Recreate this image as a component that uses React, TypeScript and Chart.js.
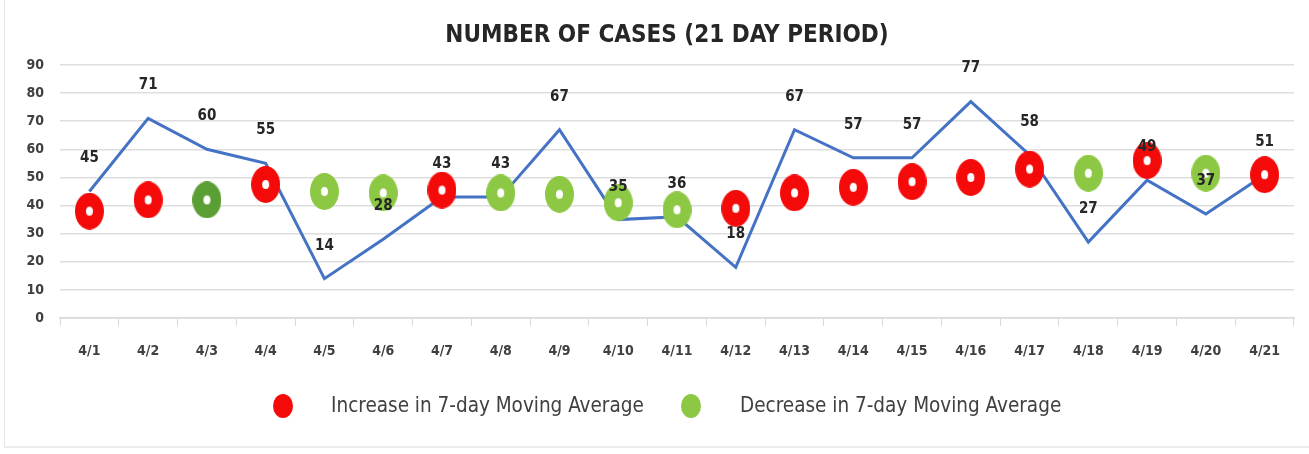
import React, { useEffect, useRef } from "react";
import { Chart, registerables } from "chart.js";

Chart.register(...registerables);

const categories = [
  "4/1", "4/2", "4/3", "4/4", "4/5", "4/6", "4/7", "4/8", "4/9", "4/10", "4/11",
  "4/12", "4/13", "4/14", "4/15", "4/16", "4/17", "4/18", "4/19", "4/20", "4/21",
];
const dailyCases = [45, 71, 60, 55, 14, 28, 43, 43, 67, 35, 36, 18, 67, 57, 57, 77, 58, 27, 49, 37, 51];
const movingAverage = [38, 42, 42, 47.5, 45, 44.5, 45.5, 44.5, 44, 41, 38.5, 39, 44.5, 46.5, 48.5, 50, 53, 51.5, 56, 51.5, 51];
const trend = [
  "up", "up", "downDark", "up", "down", "down", "up", "down", "down", "down", "down",
  "up", "up", "up", "up", "up", "up", "down", "up", "down", "up",
];
const yTicks = [0, 10, 20, 30, 40, 50, 60, 70, 80, 90];
const titleText = "NUMBER OF CASES (21 DAY PERIOD)";
const legendUp = "Increase in 7-day Moving Average";
const legendDown = "Decrease in 7-day Moving Average";

const FONT = "'Liberation Sans Narrow', 'DejaVu Sans Condensed', 'Open Sans', sans-serif";
const COLORS: Record<string, string> = {
  up: "#f50a0a",
  down: "#8cc843",
  downDark: "#5a9e34",
};

function makeRing(color: string): HTMLCanvasElement {
  const c = document.createElement("canvas");
  c.width = 29;
  c.height = 37;
  const g = c.getContext("2d")!;
  g.fillStyle = color;
  g.beginPath();
  g.ellipse(14.5, 18.5, 14.5, 18.5, 0, 0, Math.PI * 2);
  g.fill();
  g.fillStyle = "#ffffff";
  g.beginPath();
  g.ellipse(14.5, 18.5, 3.5, 4.5, 0, 0, Math.PI * 2);
  g.fill();
  return c;
}

export default function App() {
  const ref = useRef<HTMLCanvasElement | null>(null);

  useEffect(() => {
    document.body.style.margin = "0";
    const rings: Record<string, HTMLCanvasElement> = {
      up: makeRing(COLORS.up),
      down: makeRing(COLORS.down),
      downDark: makeRing(COLORS.downDark),
    };

    const overlay = {
      id: "overlay",
      afterDatasetsDraw(chart: any) {
        const ctx = chart.ctx;
        const meta = chart.getDatasetMeta(0);
        ctx.save();
        ctx.font = `bold 15px ${FONT}`;
        ctx.fillStyle = "#262626";
        ctx.textAlign = "center";
        ctx.textBaseline = "middle";
        meta.data.forEach((p: any, i: number) => {
          ctx.fillText(String(dailyCases[i]), p.x, p.y - 33);
        });
        ctx.restore();
      },
      afterDraw(chart: any) {
        const ctx = chart.ctx;
        ctx.save();
        // title
        ctx.font = `bold 24px ${FONT}`;
        ctx.fillStyle = "#262626";
        ctx.textAlign = "center";
        ctx.textBaseline = "middle";
        ctx.fillText(titleText, 667, 36);
        // legend
        const ly = 406;
        ctx.fillStyle = COLORS.up;
        ctx.beginPath();
        ctx.ellipse(283, ly, 10, 12, 0, 0, Math.PI * 2);
        ctx.fill();
        ctx.fillStyle = COLORS.down;
        ctx.beginPath();
        ctx.ellipse(691, ly, 10, 12, 0, 0, Math.PI * 2);
        ctx.fill();
        ctx.font = `20.5px ${FONT}`;
        ctx.fillStyle = "#404040";
        ctx.textAlign = "left";
        ctx.fillText(legendUp, 331, ly + 1);
        ctx.fillText(legendDown, 740, ly + 1);
        ctx.restore();
      },
    };

    const chart = new Chart(ref.current!, {
      type: "line",
      data: {
        labels: categories,
        datasets: [
          {
            label: "Daily cases",
            data: dailyCases,
            borderColor: "#4472c4",
            borderWidth: 3,
            pointRadius: 0,
            tension: 0,
            order: 2,
          },
          {
            label: "7-day Moving Average",
            data: movingAverage,
            showLine: false,
            pointStyle: trend.map((t) => rings[t]) as any,
            pointRadius: 14,
            order: 1,
          },
        ],
      },
      options: {
        animation: false,
        responsive: false,
        layout: { padding: { top: 65, right: 11, bottom: 76, left: 0 } },
        plugins: {
          legend: { display: false },
          title: { display: false },
          tooltip: { enabled: false },
        },
        scales: {
          x: {
            offset: true,
            grid: {
              offset: true,
              drawOnChartArea: false,
              tickLength: 8,
              color: "#d9d9d9",
            },
            border: { color: "#d9d9d9", width: 1.5 },
            ticks: {
              padding: 17,
              color: "#404040",
              font: { family: FONT, size: 14, weight: "bold" },
              maxRotation: 0,
              autoSkip: false,
            },
            afterFit(scale: any) {
              scale.height = 60;
            },
          },
          y: {
            min: 0,
            max: 90,
            afterBuildTicks(scale: any) {
              scale.ticks = yTicks.map((v) => ({ value: v }));
            },
            grid: { color: "#dedede", lineWidth: 1.5, drawTicks: false },
            border: { display: false },
            ticks: {
              padding: 16,
              color: "#404040",
              font: { family: FONT, size: 14, weight: "bold" },
            },
            afterFit(scale: any) {
              scale.width = 60;
            },
          },
        },
      },
      plugins: [overlay],
    });
    return () => chart.destroy();
  }, []);

  return (
    <div style={{ width: 1309, height: 454, position: "relative", background: "#fff" }}>
      <canvas ref={ref} width={1309} height={454} style={{ display: "block" }} />
      <div
        style={{
          position: "absolute",
          left: 4,
          top: 0,
          width: 1305,
          height: 448,
          borderLeft: "1px solid #e4e4e4",
          borderBottom: "2px solid #ececec",
          boxSizing: "border-box",
          pointerEvents: "none",
        }}
      />
    </div>
  );
}
